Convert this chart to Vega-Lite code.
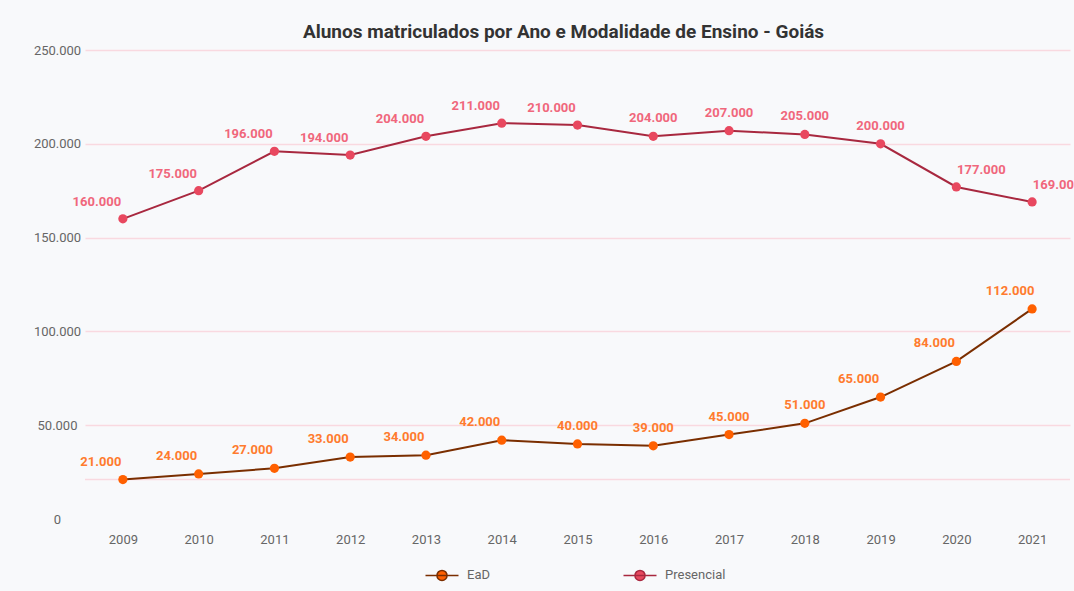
{
  "$schema": "https://vega.github.io/schema/vega-lite/v6.json",
  "autosize": {"type": "none"},
  "width": 985,
  "height": 469,
  "padding": {"left": 85, "top": 50, "right": 4, "bottom": 72},
  "background": "#f8f9fb",
  "title": {
    "text": "Alunos matriculados por Ano e Modalidade de Ensino - Goiás",
    "font": "Roboto",
    "fontSize": 19,
    "fontWeight": "bold",
    "color": "#333333",
    "anchor": "middle",
    "dx": -14,
    "offset": 2
  },
  "config": {
    "locale": {"number": {"decimal": ",", "thousands": ".", "grouping": [3], "currency": ["R$", ""]}},
    "view": {"stroke": null},
    "font": "Roboto"
  },
  "data": {
    "values": [
      {"ano": "2009", "serie": "EaD", "valor": 21000},
      {"ano": "2010", "serie": "EaD", "valor": 24000},
      {"ano": "2011", "serie": "EaD", "valor": 27000},
      {"ano": "2012", "serie": "EaD", "valor": 33000},
      {"ano": "2013", "serie": "EaD", "valor": 34000},
      {"ano": "2014", "serie": "EaD", "valor": 42000},
      {"ano": "2015", "serie": "EaD", "valor": 40000},
      {"ano": "2016", "serie": "EaD", "valor": 39000},
      {"ano": "2017", "serie": "EaD", "valor": 45000},
      {"ano": "2018", "serie": "EaD", "valor": 51000},
      {"ano": "2019", "serie": "EaD", "valor": 65000},
      {"ano": "2020", "serie": "EaD", "valor": 84000},
      {"ano": "2021", "serie": "EaD", "valor": 112000},
      {"ano": "2009", "serie": "Presencial", "valor": 160000},
      {"ano": "2010", "serie": "Presencial", "valor": 175000},
      {"ano": "2011", "serie": "Presencial", "valor": 196000},
      {"ano": "2012", "serie": "Presencial", "valor": 194000},
      {"ano": "2013", "serie": "Presencial", "valor": 204000},
      {"ano": "2014", "serie": "Presencial", "valor": 211000},
      {"ano": "2015", "serie": "Presencial", "valor": 210000},
      {"ano": "2016", "serie": "Presencial", "valor": 204000},
      {"ano": "2017", "serie": "Presencial", "valor": 207000},
      {"ano": "2018", "serie": "Presencial", "valor": 205000},
      {"ano": "2019", "serie": "Presencial", "valor": 200000},
      {"ano": "2020", "serie": "Presencial", "valor": 177000},
      {"ano": "2021", "serie": "Presencial", "valor": 169000}
    ]
  },
  "encoding": {
    "x": {
      "field": "ano",
      "type": "ordinal",
      "scale": {"type": "point", "padding": 0.5},
      "axis": {
        "title": null,
        "labelAngle": 0,
        "ticks": false,
        "domain": false,
        "grid": false,
        "labelFontSize": 13,
        "labelColor": "#666666",
        "labelPadding": 14,
        "labelFont": "Roboto"
      }
    },
    "y": {
      "field": "valor",
      "type": "quantitative",
      "scale": {"domain": [0, 250000], "nice": false},
      "axis": {
        "title": null,
        "values": [0, 50000, 100000, 150000, 200000, 250000],
        "format": ",.0f",
        "ticks": false,
        "domain": false,
        "grid": true,
        "gridColor": "#f9d9e0",
        "gridWidth": 1.5,
        "gridOpacity": {"condition": {"test": "datum.value === 0", "value": 0}, "value": 1},
        "labelAlign": "center",
        "labelPadding": 28,
        "labelFontSize": 13,
        "labelColor": "#666666",
        "labelFont": "Roboto"
      }
    }
  },
  "layer": [
    {
      "data": {"values": [{"linha": 21000}]},
      "mark": {"type": "rule", "color": "#f9d9e0", "strokeWidth": 1.5},
      "encoding": {"x": null, "y": {"field": "linha", "type": "quantitative"}}
    },
    {
      "mark": {"type": "line", "strokeWidth": 2},
      "encoding": {
        "stroke": {
          "field": "serie",
          "type": "nominal",
          "scale": {"domain": ["EaD", "Presencial"], "range": ["#7a2e00", "#a8283f"]},
          "legend": {
            "title": null,
            "orient": "none",
            "legendX": 345,
            "legendY": 513,
            "direction": "horizontal",
            "columns": 2,
            "columnPadding": 130,
            "symbolType": "M -1.5 0 L 1.5 0 M 0.46 0 A 0.46 0.46 0 1 1 -0.46 0 A 0.46 0.46 0 1 1 0.46 0",
            "symbolSize": 484,
            "symbolStrokeWidth": 1.5,
            "labelFontSize": 13,
            "labelColor": "#666666",
            "labelFont": "Roboto",
            "labelOffset": 13
          }
        }
      }
    },
    {
      "mark": {"type": "circle", "size": 85, "opacity": 1},
      "encoding": {
        "fill": {
          "field": "serie",
          "type": "nominal",
          "scale": {"domain": ["EaD", "Presencial"], "range": ["#ff6000", "#e8485f"]},
          "legend": {
            "title": null,
            "orient": "none",
            "legendX": 345,
            "legendY": 513,
            "direction": "horizontal",
            "columns": 2,
            "columnPadding": 130,
            "symbolType": "M -1.5 0 L 1.5 0 M 0.46 0 A 0.46 0.46 0 1 1 -0.46 0 A 0.46 0.46 0 1 1 0.46 0",
            "symbolSize": 484,
            "symbolStrokeWidth": 1.5,
            "labelFontSize": 13,
            "labelColor": "#666666",
            "labelFont": "Roboto",
            "labelOffset": 13
          }
        }
      }
    },
    {
      "transform": [{"filter": "datum.serie === 'EaD' && (datum.ano <= '2014' || datum.ano >= '2019')"}],
      "mark": {"type": "text", "font": "Roboto", "fontSize": 13, "fontWeight": "bold", "color": "#ff7b2e", "dx": -22, "dy": -18},
      "encoding": {"text": {"field": "valor", "type": "quantitative", "format": ",.0f"}}
    },
    {
      "transform": [{"filter": "datum.serie === 'EaD' && datum.ano >= '2015' && datum.ano <= '2018'"}],
      "mark": {"type": "text", "font": "Roboto", "fontSize": 13, "fontWeight": "bold", "color": "#ff7b2e", "dx": 0, "dy": -18},
      "encoding": {"text": {"field": "valor", "type": "quantitative", "format": ",.0f"}}
    },
    {
      "transform": [{"filter": "datum.serie === 'Presencial' && datum.ano <= '2015'"}],
      "mark": {"type": "text", "font": "Roboto", "fontSize": 13, "fontWeight": "bold", "color": "#f0677c", "dx": -26, "dy": -17},
      "encoding": {"text": {"field": "valor", "type": "quantitative", "format": ",.0f"}}
    },
    {
      "transform": [{"filter": "datum.serie === 'Presencial' && datum.ano >= '2016' && datum.ano <= '2019'"}],
      "mark": {"type": "text", "font": "Roboto", "fontSize": 13, "fontWeight": "bold", "color": "#f0677c", "dx": 0, "dy": -18},
      "encoding": {"text": {"field": "valor", "type": "quantitative", "format": ",.0f"}}
    },
    {
      "transform": [{"filter": "datum.serie === 'Presencial' && datum.ano >= '2020'"}],
      "mark": {"type": "text", "font": "Roboto", "fontSize": 13, "fontWeight": "bold", "color": "#f0677c", "dx": 25, "dy": -17},
      "encoding": {"text": {"field": "valor", "type": "quantitative", "format": ",.0f"}}
    }
  ]
}
